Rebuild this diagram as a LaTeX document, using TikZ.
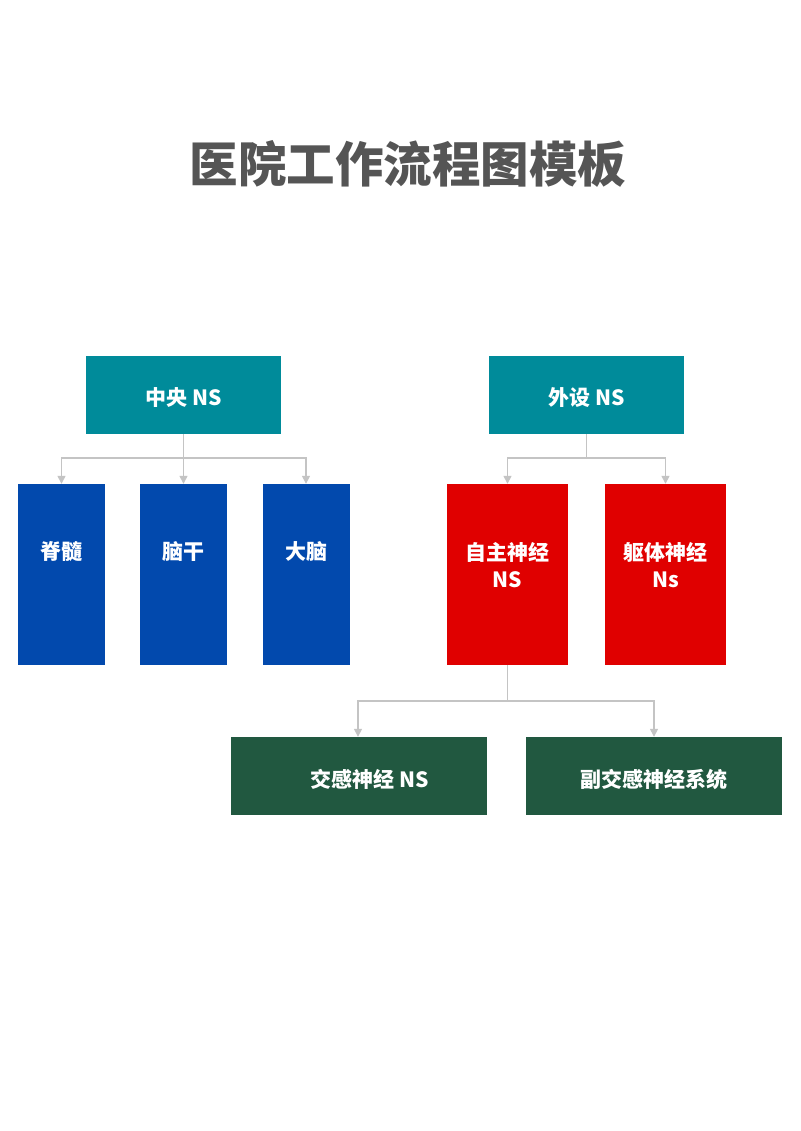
\documentclass[tikz,border=0pt]{standalone}
\usepackage{fontspec}
\newfontfamily\cjk{Noto Sans CJK SC}
\usetikzlibrary{arrows.meta}
\definecolor{teal1}{RGB}{0,139,154}
\definecolor{blue1}{RGB}{2,73,173}
\definecolor{red1}{RGB}{224,0,0}
\definecolor{green1}{RGB}{33,88,64}
\definecolor{conn}{RGB}{196,196,196}
\definecolor{titlec}{RGB}{85,85,85}
\begin{document}
\begin{tikzpicture}[x=1pt,y=-1pt,
  box/.style={draw=none,inner sep=0pt,text=white,font=\cjk\bfseries\fontsize{21}{27}\selectfont,align=center},
  topbox/.style={box,fill=teal1,minimum width=195pt,minimum height=78pt},
  bluebox/.style={box,fill=blue1,minimum width=87pt,minimum height=181pt},
  redbox/.style={box,fill=red1,minimum width=121pt,minimum height=181pt},
  greenbox/.style={box,fill=green1,minimum width=256pt,minimum height=78pt},
  conn/.style={draw=conn,line width=1.4pt},
  arr/.style={conn,-{Triangle[width=8pt,length=8pt]}}]
\useasboundingbox (0,0) rectangle (800,1131);
\fill[white] (0,0) rectangle (800,1131);
\node[font=\cjk\bfseries\fontsize{48.5}{54}\selectfont,text=titlec] (title) at (408,164) {医院工作流程图模板};
% top boxes
\node[topbox] (central) at (183.5,395) {};
\node[box] (centralt) at (183.5,397.5) {中央 NS};
\node[topbox] (periph) at (586.5,395) {};
\node[box] (periphlt) at (586.5,397.5) {外设 NS};
% blue boxes
\node[bluebox] (spine) at (61.5,574.5) {};
\node[box] (spinet) at (61.5,552) {脊髓};
\node[bluebox] (stem) at (183.5,574.5) {};
\node[box] (stemt) at (183.5,552) {脑干};
\node[bluebox] (brain) at (306,574.5) {};
\node[box] (braint) at (306,552) {大脑};
% red boxes
\node[redbox] (auto) at (507.5,574.5) {};
\node[box] (autot) at (507.5,565) {自主神经\\NS};
\node[redbox] (soma) at (665.5,574.5) {};
\node[box] (somat) at (665.5,565) {躯体神经\\Ns};
% green boxes
\node[greenbox] (symp) at (359,776) {};
\node[box] (sympt) at (370,779) {交感神经 NS};
\node[greenbox] (para) at (654,776) {};
\node[box] (parat) at (654,779) {副交感神经系统};
% connectors
\coordinate (j1) at (183.5,458);
\draw[conn] (central.south) -- (j1);
\draw[arr] (j1) -| (spine.north);
\draw[arr] (j1) -- (stem.north);
\draw[arr] (j1) -| (brain.north);
\coordinate (j2) at (586.5,458);
\draw[conn] (periph.south) -- (j2);
\draw[arr] (j2) -| (auto.north);
\draw[arr] (j2) -| (soma.north);
\coordinate (j3) at (507.5,701);
\draw[conn] (auto.south) -- (j3);
\draw[arr] (j3) -| ([xshift=-1pt]symp.north);
\draw[arr] (j3) -| (para.north);
\end{tikzpicture}
\end{document}
